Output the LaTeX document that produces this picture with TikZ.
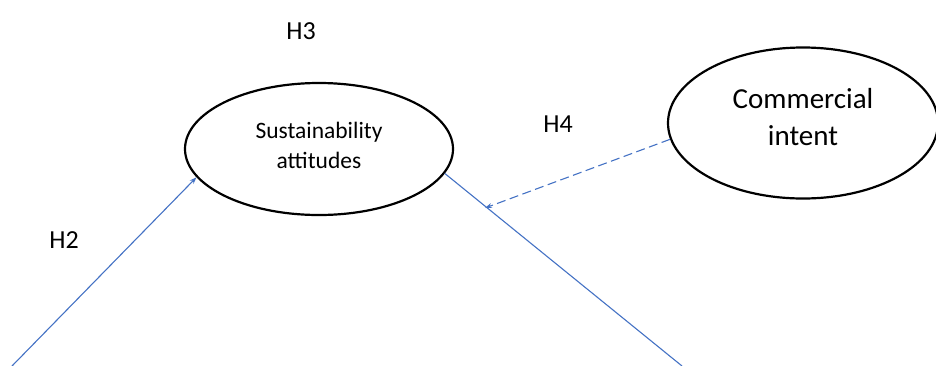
\documentclass[tikz,border=0pt]{standalone}
\usepackage{fontspec}
\setmainfont{Carlito}
\usetikzlibrary{shapes.geometric,arrows.meta}
\definecolor{linkblue}{HTML}{4472C4}
\tikzset{
  construct/.style={draw=black, line width=2.2pt, ellipse, inner sep=0pt, align=center},
  hlabel/.style={font=\fontsize{26}{30}\selectfont, text=black, inner sep=0pt},
  link/.style={draw=linkblue, line width=1.1pt},
  tip/.style={-{Stealth[length=7pt,width=5pt]}},
  dashlink/.style={link, dash pattern=on 9pt off 4.5pt}
}
\begin{document}
\begin{tikzpicture}[x=1pt,y=-1pt]
\useasboundingbox (0,0) rectangle (936,365);
\clip (0,0) rectangle (936,365);
\node[construct, minimum width=268pt, minimum height=132pt, text depth=7pt,
      font=\fontsize{23.5}{30}\selectfont] (s) at (319,149) {Sustainability\\attitudes};
\node[construct, minimum width=270pt, minimum height=151pt, text depth=12pt,
      font=\fontsize{29}{37}\selectfont] (c) at (803,123) {Commercial\\intent};
\node[hlabel] (h3) at (301,31) {H3};
\node[hlabel] (h4) at (558,124) {H4};
\node[hlabel] (h2) at (64,240) {H2};
\coordinate (a) at (12,366);
\coordinate (b) at (682,366);
\coordinate (m) at (485,208);
\draw[link, tip] (a) -- (s.193);
\draw[link] (s.349) -- (b);
\draw[dashlink, tip] (c.187) -- (m);
\end{tikzpicture}
\end{document}
